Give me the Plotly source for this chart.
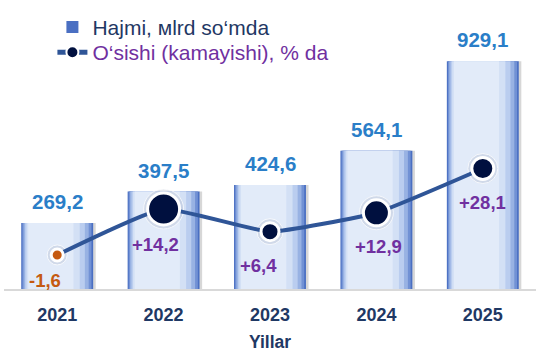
import plotly.graph_objects as go

# ---- data ----
years = ["2021", "2022", "2023", "2024", "2025"]
volume = [269.2, 397.5, 424.6, 564.1, 929.1]          # Hajmi, mlrd so'mda
growth = [-1.6, 14.2, 6.4, 12.9, 28.1]                # O'sishi (kamayishi), %

# ---- styles ----
FONT = "Arial, Liberation Sans, sans-serif"
NAVY = "#1F3864"
PURPLE = "#7030A0"
ORANGE = "#C55A11"
VAL_BLUE = "#2A7EC8"
LINE_BLUE = "#2F5597"
MARKER_FILL = "#00103F"

marker_sizes = [12, 32, 18, 26, 22]
marker_fills = [ORANGE, MARKER_FILL, MARKER_FILL, MARKER_FILL, MARKER_FILL]
pct_xshift = [-12, -8, -12, 2, 0]
pct_yshift = [-26, -36, -34, -34, -34]

def fmt(v, sign=False):
    s = f"{v:+.1f}" if sign else f"{v:.1f}"
    return s.replace(".", ",")

fig = go.Figure()

# gradient bar layers: (offset, width, color)
layers = [
    (-0.328, 0.69, "rgba(140,140,140,0.35)"),
    (-0.338, 0.676, "#4A6FC2"),
    (-0.328, 0.650, "#7191D4"),
    (-0.316, 0.612, "#98B2E3"),
    (-0.302, 0.562, "#BACDEF"),
    (-0.288, 0.500, "#D3E0F5"),
    (-0.272, 0.425, "#E2EBF9"),
]
for i, (off, w, col) in enumerate(layers):
    fig.add_trace(go.Bar(
        x=years, y=volume,
        offset=off, width=w,
        marker=dict(color=col, line=dict(width=0)),
        name="<span style='color:" + NAVY + "'>Hajmi, мlrd so‘mda</span>",
        showlegend=(i == 1),
        legend="legend",
        hoverinfo="skip" if i != 1 else None,
    ))

# glow under markers
fig.add_trace(go.Scatter(
    x=years, y=growth, yaxis="y2", mode="markers",
    marker=dict(size=[s + 8 for s in marker_sizes], color="rgba(170,180,200,0.45)"),
    showlegend=False, hoverinfo="skip",
))
# line with markers
fig.add_trace(go.Scatter(
    x=years, y=growth, yaxis="y2", mode="lines+markers",
    line=dict(color=LINE_BLUE, width=4, shape="spline", smoothing=0.4),
    marker=dict(size=marker_sizes, color=marker_fills, opacity=1,
                line=dict(color="white", width=3)),
    showlegend=False,
))
# legend entry for the line series (navy marker)
fig.add_trace(go.Scatter(
    x=[None], y=[None], yaxis="y2", mode="lines+markers",
    line=dict(color=LINE_BLUE, width=4),
    marker=dict(size=16, color=MARKER_FILL, line=dict(color="white", width=2)),
    name="<span style='color:" + PURPLE + "'>O‘sishi (kamayishi), % da</span>",
    legend="legend2",
))

annotations = []
for i, v in enumerate(volume):
    annotations.append(dict(
        x=i, y=v, xref="x", yref="y", text=fmt(v), showarrow=False,
        yanchor="bottom", yshift=8,
        font=dict(family=FONT, size=20.5, color=VAL_BLUE, weight="bold"),
    ))
for i, (g, xs, ys) in enumerate(zip(growth, pct_xshift, pct_yshift)):
    annotations.append(dict(
        x=i, y=g, xref="x", yref="y2", text=fmt(g, sign=g > 0), showarrow=False,
        yanchor="middle", xshift=xs, yshift=ys,
        font=dict(family=FONT, size=18.5, color=ORANGE if g < 0 else PURPLE, weight="bold"),
    ))

legend_common = dict(
    xanchor="left", yanchor="top",
    font=dict(family=FONT, size=21, color=NAVY),
    bgcolor="rgba(0,0,0,0)", itemsizing="constant",
)

fig.update_layout(
    width=538, height=352,
    margin=dict(l=4, r=2, t=30, b=63),
    paper_bgcolor="white", plot_bgcolor="white",
    barmode="overlay",
    font=dict(family=FONT),
    showlegend=True,
    legend=dict(x=0.091, y=1.089, **legend_common),
    legend2=dict(x=0.091, y=0.992, **legend_common),
    xaxis=dict(
        type="category", range=[-0.5, 4.5],
        showline=True, linecolor="#D9D9D9", linewidth=2,
        showgrid=False, zeroline=False, ticks="",
        ticklabelstandoff=8,
        tickfont=dict(family=FONT, size=18, color=NAVY, weight="bold"),
        title=dict(text="Yillar", standoff=13,
                   font=dict(family=FONT, size=17.5, color=NAVY, weight="bold")),
    ),
    yaxis=dict(range=[0, 1057], visible=False, showgrid=False, zeroline=False),
    yaxis2=dict(range=[-13.3, 75.7], overlaying="y", visible=False,
                showgrid=False, zeroline=False),
    annotations=annotations,
)

fig.write_html("out.html")
